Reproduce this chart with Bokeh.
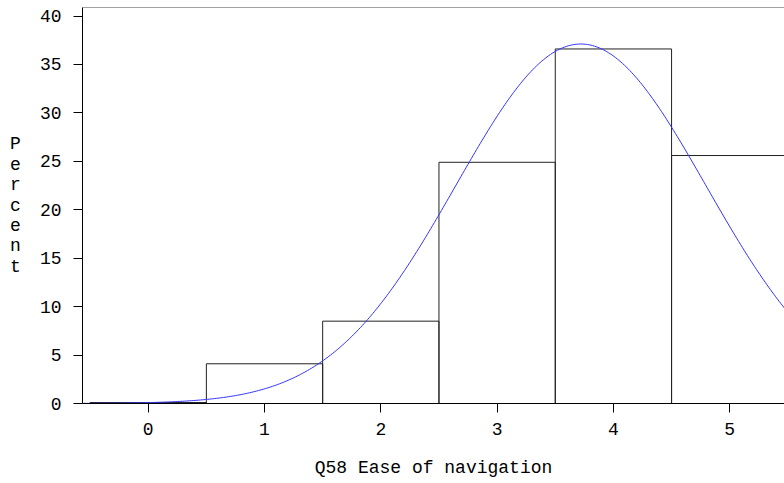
import numpy as np
from bokeh.plotting import figure
from bokeh.models import Range1d, FixedTicker, Span, Label
from bokeh.embed import file_html
from bokeh.resources import INLINE

# Data
categories = [0, 1, 2, 3, 4, 5]
percent = [0.1, 4.1, 8.5, 24.9, 36.6, 25.6]
bin_width = 1.0
mu = 3.72
sigma = 1.075
y_ticks = [0, 5, 10, 15, 20, 25, 30, 35, 40]
x_ticks = [0, 1, 2, 3, 4, 5]
x_label = "Q58 Ease of navigation"
y_label = "Percent"

FONT = "Liberation Mono"
Y_TOP = 40.88

p = figure(width=784, height=483, output_backend="svg", toolbar_location=None,
           x_range=Range1d(-0.565, 5.471), y_range=Range1d(0, Y_TOP),
           min_border_left=82, min_border_right=0, min_border_top=7, min_border_bottom=80)
p.outline_line_color = None
p.xgrid.visible = False
p.ygrid.visible = False
p.background_fill_color = "white"

left = [c - bin_width / 2 for c in categories]
right = [c + bin_width / 2 for c in categories]
p.quad(left=left, right=right, bottom=0, top=percent, fill_color=None,
       line_color="#222222", line_width=1)

xs = np.linspace(-0.565, 5.471, 400)
ys = 100 * bin_width * np.exp(-0.5 * ((xs - mu) / sigma) ** 2) / (sigma * np.sqrt(2 * np.pi))
p.line(xs, ys, line_color="#3333ff", line_width=1)

p.add_layout(Span(location=Y_TOP, dimension="width", line_color="#444444", line_width=1))

for ax in (p.xaxis[0], p.yaxis[0]):
    ax.axis_line_color = "black"
    ax.major_tick_line_color = "black"
    ax.major_tick_out = 9
    ax.major_tick_in = 0
    ax.minor_tick_out = 0
    ax.minor_tick_in = 0
    ax.major_label_text_font = FONT
    ax.major_label_text_font_size = "18px"
    ax.major_label_text_color = "black"

p.xaxis[0].ticker = FixedTicker(ticks=x_ticks)
p.yaxis[0].ticker = FixedTicker(ticks=y_ticks)
p.xaxis[0].major_label_standoff = 10
p.yaxis[0].major_label_standoff = 12
p.xaxis[0].axis_label = x_label
p.xaxis[0].axis_label_text_font = FONT
p.xaxis[0].axis_label_text_font_size = "18px"
p.xaxis[0].axis_label_text_font_style = "normal"
p.xaxis[0].axis_label_text_color = "black"
p.xaxis[0].axis_label_standoff = 20

ya = p.yaxis[0]
try:
    ya.axis_label_orientation = "horizontal"
    ya.axis_label = "\n".join(y_label)
    ya.axis_label_text_font = FONT
    ya.axis_label_text_font_size = "18px"
    ya.axis_label_text_font_style = "normal"
    ya.axis_label_text_color = "black"
    ya.axis_label_text_line_height = 1.02
    ya.axis_label_standoff = 16
except AttributeError:
    p.add_layout(Label(x=-68, y=20.2, x_units="screen", y_units="data",
                       text="\n".join(y_label), text_font=FONT, text_font_size="18px",
                       text_align="center", text_baseline="middle", text_line_height=1.02,
                       text_color="black"))

open("out.html", "w").write(file_html(p, INLINE))
